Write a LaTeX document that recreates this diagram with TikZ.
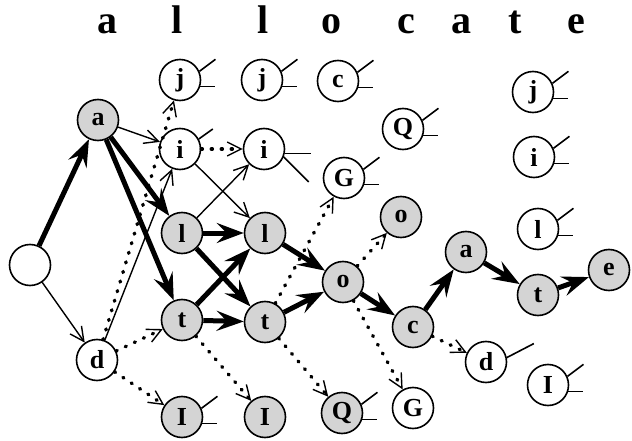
\documentclass[tikz,border=0pt]{standalone}
\usepackage{fontspec}
\setmainfont{Liberation Serif}
\usetikzlibrary{arrows.meta}
\begin{document}
\begin{tikzpicture}[x=1pt,y=-1pt,
  st/.style={circle, draw, line width=1.6pt, minimum size=41pt, inner sep=0pt, font=\bfseries\fontsize{26}{26}\selectfont},
  gr/.style={st, fill=black!17},
  top/.style={font=\bfseries\fontsize{40}{40}\selectfont, anchor=base},
  thinarr/.style={line width=1.4pt, -{Straight Barb[length=14pt,width=14pt]}},
  thickarr/.style={line width=5pt, -{Stealth[length=27pt,width=20pt,inset=10pt]}},
  dotarr/.style={line width=3.5pt, line cap=round, dash pattern=on 1pt off 9pt, -{Straight Barb[length=14pt,width=14pt,line width=1.4pt]}},
  stub/.style={line width=1.6pt}
]
\useasboundingbox (0,0) rectangle (632,441);
% top letters
\foreach \x/\t [count=\k] in {107/a,177/l,263/l,331/o,406/c,461/a,515/t,576/e}
  \node[top] (L\k) at (\x,34) {\t};
% nodes
\node[st] (s) at (30,265) {};
\node[gr] (a) at (98,120) {a};
\node[st] (j1) at (180,80) {j};
\node[st] (j2) at (262,80) {j};
\node[st] (cT) at (338,81) {c};
\node[st] (QT) at (403,129) {Q};
\node[st] (G) at (344,178) {G};
\node[st] (jR) at (533,92) {j};
\node[st] (iR) at (534,157) {i};
\node[st] (lR) at (538,229) {l};
\node[st] (i1) at (180,149) {i};
\node[st] (i2) at (264,149) {i};
\node[gr] (l1) at (182,233) {l};
\node[gr] (l2) at (265,233) {l};
\node[gr] (oT) at (401,217) {o};
\node[gr] (o) at (343,282) {o};
\node[gr] (t1) at (182,320) {t};
\node[gr] (t2) at (265,322) {t};
\node[gr] (c) at (413,327) {c};
\node[gr] (a2) at (466,252) {a};
\node[gr] (t3) at (538,295) {t};
\node[gr] (e) at (609,270) {e};
\node[st] (d1) at (97,360) {d};
\node[st] (d2) at (486,362) {d};
\node[st] (IR) at (548,385) {I};
\node[gr] (I1) at (182,417) {I};
\node[gr] (I2) at (265,417) {I};
\node[gr] (QB) at (342,413) {Q};
\node[st] (GB) at (413,408) {G};
% stubs
\foreach \n in {j1,j2,cT,QT,G,jR,iR,lR,IR,I1,QB}{
  \draw[stub] (\n.24) -- ++(16,-12);
  \draw[stub] (\n.-18) -- ++(15,0);
}
\draw[stub] (i1.28) -- ++(14,-10);
\draw[stub] (i2.-12) -- ++(26,0);
\draw[stub] (i2.-22) -- ++(25,25);
\draw[stub] (d2.12) -- ++(27,-14);
% thick edges
\foreach \u/\v in {s/a,a/l1,a/t1,l1/l2,l1/t2,t1/l2,t1/t2,l2/o,t2/o,o/c,c/a2,a2/t3,t3/e}
  \draw[thickarr] (\u) -- (\v);
% thin edges
\foreach \u/\v in {s/d1,a/i1,d1/i1,l1/i2,i1/l2}
  \draw[thinarr] (\u) -- (\v);
% dotted edges
\foreach \u/\v in {d1/j1,i1/i2,t2/G,o/oT,o/GB,t2/QB,t1/I2,d1/t1,d1/I1,c/d2}
  \draw[dotarr] (\u) -- (\v);
\end{tikzpicture}
\end{document}
